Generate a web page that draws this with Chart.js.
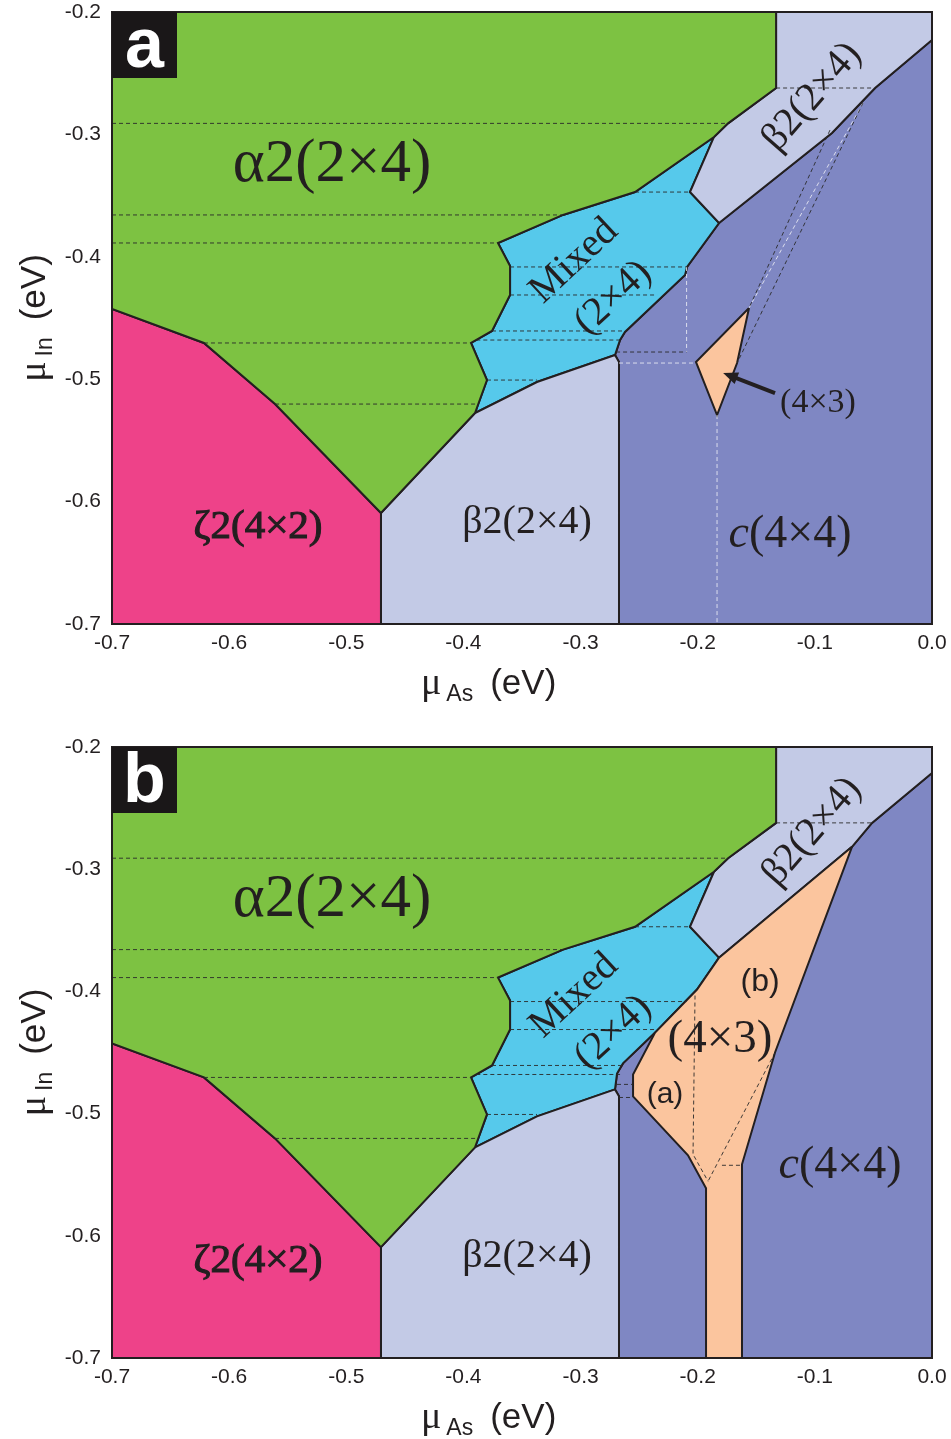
<!DOCTYPE html>
<html>
<head>
<meta charset="utf-8">
<script src="https://cdn.jsdelivr.net/npm/chart.js@4.4.1/dist/chart.umd.min.js"></script>
<style>
  html, body { margin: 0; padding: 0; background: #fff; }
  #wrap { width: 951px; height: 1439px; }
  canvas { display: block; }
</style>
</head>
<body>
<div id="wrap">
  <canvas id="panelA" width="951" height="735"></canvas>
  <canvas id="panelB" width="951" height="704"></canvas>
</div>
<script>
// axes (eV)
var xTicks = [-0.7, -0.6, -0.5, -0.4, -0.3, -0.2, -0.1, 0.0];
var yTicks = [-0.7, -0.6, -0.5, -0.4, -0.3, -0.2];

// phase regions, [muAs, muIn] corners, shared by both panels
var alpha2 = [[-0.7,-0.2],[-0.1331,-0.2],[-0.1331,-0.2621],[-0.1741,-0.291],[-0.1861,-0.3021],[-0.2535,-0.3471],
  [-0.315,-0.3658],[-0.3705,-0.3887],[-0.3602,-0.4075],[-0.3602,-0.4312],[-0.3756,-0.4606],[-0.3935,-0.4704],
  [-0.3799,-0.5007],[-0.3901,-0.5276],[-0.4704,-0.6093],[-0.5608,-0.5203],[-0.6215,-0.4704],[-0.7,-0.4426]];
var zeta2 = [[-0.7,-0.4426],[-0.6215,-0.4704],[-0.5608,-0.5203],[-0.4704,-0.6093],[-0.4704,-0.7],[-0.7,-0.7]];
var beta2Low = [[-0.4704,-0.6093],[-0.3901,-0.5276],[-0.3372,-0.5023],[-0.2706,-0.4802],[-0.2672,-0.4859],
  [-0.2672,-0.7],[-0.4704,-0.7]];

// panel a
var beta2UpA = [[-0.1861,-0.3021],[-0.1741,-0.291],[-0.1331,-0.2621],[-0.1331,-0.2],[0,-0.2],[0,-0.2229],
  [-0.0486,-0.2621],[-0.0854,-0.2989],[-0.1818,-0.3724],[-0.2066,-0.3471]];
var mixedA = [[-0.3705,-0.3887],[-0.315,-0.3658],[-0.2535,-0.3471],[-0.1861,-0.3021],[-0.2066,-0.3471],
  [-0.1818,-0.3724],[-0.2091,-0.4083],[-0.2108,-0.4149],[-0.2621,-0.4614],[-0.2663,-0.468],[-0.2706,-0.4802],
  [-0.3372,-0.5023],[-0.3901,-0.5276],[-0.3799,-0.5007],[-0.3935,-0.4704],[-0.3756,-0.4606],[-0.3602,-0.4312],
  [-0.3602,-0.4075]];
var c44A = [[0,-0.2229],[-0.0486,-0.2621],[-0.0854,-0.2989],[-0.1818,-0.3724],[-0.2091,-0.4083],[-0.2108,-0.4149],
  [-0.2621,-0.4614],[-0.2663,-0.468],[-0.2706,-0.4802],[-0.2672,-0.4859],[-0.2672,-0.7],[0,-0.7]];
var o43A = [[-0.1562,-0.4418],[-0.1664,-0.4868],[-0.1835,-0.5293],[-0.2015,-0.4859]];

// panel b
var beta2UpB = [[-0.1861,-0.3021],[-0.1741,-0.291],[-0.1331,-0.2621],[-0.1331,-0.2],[0,-0.2],[0,-0.2212],
  [-0.0512,-0.2621],[-0.0683,-0.2817],[-0.1818,-0.3724],[-0.2066,-0.3471]];
var mixedB = [[-0.3705,-0.3887],[-0.315,-0.3658],[-0.2535,-0.3471],[-0.1861,-0.3021],[-0.2066,-0.3471],
  [-0.1818,-0.3724],[-0.2006,-0.3985],[-0.2364,-0.4337],[-0.2638,-0.4589],[-0.2689,-0.4672],[-0.2706,-0.4802],
  [-0.3372,-0.5023],[-0.3901,-0.5276],[-0.3799,-0.5007],[-0.3935,-0.4704],[-0.3756,-0.4606],[-0.3602,-0.4312],
  [-0.3602,-0.4075]];
var c44B = [[0,-0.2212],[-0.0512,-0.2621],[-0.0683,-0.2817],[-0.1818,-0.3724],[-0.2006,-0.3985],[-0.2364,-0.4337],
  [-0.2638,-0.4589],[-0.2689,-0.4672],[-0.2706,-0.4802],[-0.2672,-0.4859],[-0.2672,-0.7],[0,-0.7]];
var o43B = [[-0.0683,-0.2817],[-0.1818,-0.3724],[-0.2006,-0.3985],[-0.2364,-0.4337],[-0.2552,-0.468],
  [-0.2552,-0.4859],[-0.2083,-0.5342],[-0.1929,-0.5611],[-0.1929,-0.7],[-0.1622,-0.7],[-0.1622,-0.5415],[-0.134,-0.45]];

// dashed guide lines
var dashCommon = [
  [[-0.7,-0.291],[-0.1741,-0.291]],
  [[-0.7,-0.3658],[-0.315,-0.3658]],
  [[-0.7,-0.3887],[-0.3705,-0.3887]],
  [[-0.6215,-0.4704],[-0.3935,-0.4704]],
  [[-0.5608,-0.5203],[-0.3875,-0.5203]],
  [[-0.2535,-0.3471],[-0.2066,-0.3471]],
  [[-0.3602,-0.4083],[-0.2095,-0.4083]],
  [[-0.3602,-0.4312],[-0.2347,-0.4312]],
  [[-0.3756,-0.4606],[-0.2621,-0.4606]],
  [[-0.389,-0.468],[-0.2663,-0.468]],
  [[-0.3799,-0.5007],[-0.3372,-0.5007]],
  [[-0.1331,-0.2621],[-0.05,-0.2621]]
];
var dashA = [
  [[-0.2697,-0.4778],[-0.2095,-0.4778]],
  [[-0.0871,-0.2965],[-0.1562,-0.4418]],
  [[-0.0589,-0.2743],[-0.1664,-0.4868]]
];
var dashLightA = [
  [[-0.2095,-0.4083],[-0.2095,-0.4778]],
  [[-0.2672,-0.4868],[-0.204,-0.4868]],
  [[-0.1835,-0.5293],[-0.1835,-0.7]],
  [[-0.0589,-0.2743],[-0.1562,-0.4418]]
];
var dashB = [
  [[-0.2689,-0.4761],[-0.2552,-0.4761]],
  [[-0.2672,-0.4868],[-0.2552,-0.4868]],
  [[-0.2023,-0.4034],[-0.204,-0.5333],[-0.1912,-0.5554]],
  [[-0.134,-0.45],[-0.1912,-0.5554]],
  [[-0.1793,-0.5423],[-0.1622,-0.5423]]
];
var arrowA = [[-0.134,-0.5113],[-0.1783,-0.4949]];

var INK = '#231f20';
var SERIF = '"Liberation Serif", "DejaVu Serif", serif';
var SANS = '"Liberation Sans", Arial, sans-serif';

var textCommon = [
  { at: [-0.5122, -0.325], parts: [['α2(2×4)', '61px ' + SERIF]] },
  { at: [-0.5754, -0.6208], parts: [['ζ2(4×2)', '41px ' + SERIF]], heavy: true },
  { at: [-0.3457, -0.6167], parts: [['β2(2×4)', '40px ' + SERIF]] },
  { at: [-0.3055, -0.4035], parts: [['Mixed', '40px ' + SERIF]], angle: -43 },
  { at: [-0.2722, -0.4335], parts: [['(2×4)', '40px ' + SERIF]], angle: -43 },
  { at: [-0.1024, -0.2694], parts: [['β2(2×4)', '40px ' + SERIF]], angle: -49 }
];
var textA = [
  { at: [-0.1212, -0.6273], parts: [['c', 'italic 46px ' + SERIF], ['(4×4)', '46px ' + SERIF]] },
  { at: [-0.0973, -0.5194], parts: [['(4×3)', '34px ' + SERIF]] }
];
var textB = [
  { at: [-0.0785, -0.5431], parts: [['c', 'italic 46px ' + SERIF], ['(4×4)', '46px ' + SERIF]] },
  { at: [-0.1468, -0.3928], parts: [['(b)', '32px ' + SANS]] },
  { at: [-0.181, -0.4394], parts: [['(4×3)', '47px ' + SERIF]] },
  { at: [-0.2279, -0.4843], parts: [['(a)', '30px ' + SANS]] }
];

var PhaseChart = (function(){

	function PhaseChart(canvasId, cfg){
		this.ctx = document.getElementById(canvasId).getContext('2d');
		this.cfg = cfg;
	}

	function toXY(pts){
		return pts.map(function(p){ return { x: p[0], y: p[1] }; });
	}

	function region(pts, color, order){
		return {
			data: toXY(pts.concat([pts[0]])),
			showLine: true,
			fill: 'shape',
			backgroundColor: color,
			borderColor: INK,
			borderWidth: 2,
			pointRadius: 0,
			order: order
		};
	}

	function dashes(list, color){
		return list.map(function(seg){
			return {
				data: toXY(seg),
				showLine: true,
				fill: false,
				borderColor: color,
				borderWidth: 0.9,
				borderDash: [4, 3],
				pointRadius: 0,
				order: 1
			};
		});
	}

	function fmt(v){
		return Math.abs(v) < 1e-9 ? '0.0' : Number(v).toFixed(1);
	}

	function drawParts(ctx, px, py, parts, angle, heavy){
		ctx.save();
		ctx.translate(px, py);
		if (angle) ctx.rotate(angle * Math.PI / 180);
		ctx.fillStyle = INK;
		ctx.strokeStyle = INK;
		ctx.lineWidth = 1.1;
		ctx.textBaseline = 'middle';
		ctx.textAlign = 'left';
		var total = 0;
		parts.forEach(function(p){ ctx.font = p[1]; total += ctx.measureText(p[0]).width; });
		var cx = -total / 2;
		parts.forEach(function(p){
			ctx.font = p[1];
			ctx.fillText(p[0], cx, 0);
			if (heavy) ctx.strokeText(p[0], cx, 0);
			cx += ctx.measureText(p[0]).width;
		});
		ctx.restore();
	}

	// μ with subscript, then (eV)
	function drawMu(ctx, sub, x, y, vertical){
		ctx.save();
		ctx.translate(x, y);
		if (vertical) ctx.rotate(-Math.PI / 2);
		ctx.fillStyle = INK;
		ctx.textBaseline = 'alphabetic';
		ctx.textAlign = 'left';
		var fMu = '38px ' + SERIF, fSub = '23px ' + SANS, fEv = '35px ' + SANS;
		ctx.font = fMu; var wMu = ctx.measureText('μ').width;
		ctx.font = fSub; var wSub = ctx.measureText(sub).width;
		ctx.font = fEv; var wEv = ctx.measureText('(eV)').width;
		var gap1 = 5, gap2 = 17;
		var cx = vertical ? -(wMu + gap1 + wSub + gap2 + wEv) / 2 : 0;
		ctx.font = fMu; ctx.fillText('μ', cx, 0); cx += wMu + gap1;
		ctx.font = fSub; ctx.fillText(sub, cx, 7); cx += wSub + gap2;
		ctx.font = fEv; ctx.fillText('(eV)', cx, 0);
		ctx.restore();
	}

	PhaseChart.prototype.render = function(){
		var cfg = this.cfg;
		var datasets = []
			.concat(dashes(dashCommon, '#2a2a2a'))
			.concat(dashes(cfg.dark, '#2a2a2a'))
			.concat(dashes(cfg.light, 'rgba(235,236,245,0.95)'))
			.concat([
				region(cfg.o43, '#fbc59e', 2),
				region(alpha2, '#7dc242', 3),
				region(zeta2, '#ee4289', 3),
				region(beta2Low, '#c3cae6', 3),
				region(cfg.beta2Up, '#c3cae6', 3),
				region(cfg.mixed, '#56c9eb', 3),
				region(cfg.c44, '#7f87c3', 4)
			]);

		var decor = {
			id: 'decor',
			afterDraw: function(chart){
				var ctx = chart.ctx, a = chart.chartArea;
				var sx = chart.scales.x, sy = chart.scales.y;
				ctx.save();
				ctx.strokeStyle = INK;
				ctx.lineWidth = 2;
				ctx.strokeRect(a.left, a.top, a.right - a.left, a.bottom - a.top);

				textCommon.concat(cfg.texts).forEach(function(t){
					drawParts(ctx, sx.getPixelForValue(t.at[0]), sy.getPixelForValue(t.at[1]), t.parts, t.angle, t.heavy);
				});

				if (cfg.arrow) {
					var x0 = sx.getPixelForValue(cfg.arrow[0][0]), y0 = sy.getPixelForValue(cfg.arrow[0][1]);
					var x1 = sx.getPixelForValue(cfg.arrow[1][0]), y1 = sy.getPixelForValue(cfg.arrow[1][1]);
					var ang = Math.atan2(y1 - y0, x1 - x0), head = 16;
					ctx.strokeStyle = INK;
					ctx.fillStyle = INK;
					ctx.lineWidth = 4;
					ctx.beginPath();
					ctx.moveTo(x0, y0);
					ctx.lineTo(x1 - Math.cos(ang) * head * 0.8, y1 - Math.sin(ang) * head * 0.8);
					ctx.stroke();
					ctx.beginPath();
					ctx.moveTo(x1, y1);
					ctx.lineTo(x1 - head * Math.cos(ang - 0.4), y1 - head * Math.sin(ang - 0.4));
					ctx.lineTo(x1 - head * Math.cos(ang + 0.4), y1 - head * Math.sin(ang + 0.4));
					ctx.closePath();
					ctx.fill();
				}

				// panel letter
				ctx.fillStyle = '#1a1718';
				ctx.fillRect(a.left, a.top, 65, 66);
				ctx.fillStyle = '#fff';
				ctx.font = 'bold 70px ' + SANS;
				ctx.textAlign = 'center';
				ctx.textBaseline = 'alphabetic';
				ctx.fillText(cfg.letter, a.left + 32.5, a.top + 55);

				drawMu(ctx, 'As', a.left + 309, a.bottom + 70, false);
				drawMu(ctx, 'In', 45, (a.top + a.bottom) / 2, true);
				ctx.restore();
			}
		};

		new Chart(this.ctx, {
			type: 'scatter',
			data: { datasets: datasets },
			options: {
				responsive: false,
				animation: false,
				events: [],
				layout: { padding: { left: 0, top: 12, right: 19, bottom: 0 } },
				plugins: { legend: { display: false }, tooltip: { enabled: false } },
				scales: {
					x: {
						type: 'linear', min: -0.7, max: 0,
						grid: { display: false, drawTicks: false },
						border: { display: false },
						ticks: { color: INK, font: { family: SANS, size: 21 }, padding: 7, maxRotation: 0, autoSkip: false, callback: fmt },
						afterBuildTicks: function(s){ s.ticks = xTicks.map(function(v){ return { value: v }; }); },
						afterFit: function(s){ s.height = cfg.xAxisH; s.paddingLeft = 0; s.paddingRight = 0; }
					},
					y: {
						type: 'linear', min: -0.7, max: -0.2,
						grid: { display: false, drawTicks: false },
						border: { display: false },
						ticks: { color: INK, font: { family: SANS, size: 21 }, padding: 11, autoSkip: false, callback: fmt },
						afterBuildTicks: function(s){ s.ticks = yTicks.map(function(v){ return { value: v }; }); },
						afterFit: function(s){ s.width = 112; s.paddingTop = 0; s.paddingBottom = 0; }
					}
				}
			},
			plugins: [decor]
		});
	};

	return PhaseChart;
}());

new PhaseChart('panelA', {
	letter: 'a', xAxisH: 111, o43: o43A, beta2Up: beta2UpA, mixed: mixedA, c44: c44A,
	dark: dashA, light: dashLightA, texts: textA, arrow: arrowA
}).render();

new PhaseChart('panelB', {
	letter: 'b', xAxisH: 81, o43: o43B, beta2Up: beta2UpB, mixed: mixedB, c44: c44B,
	dark: dashB, light: [], texts: textB, arrow: null
}).render();
</script>
</body>
</html>
